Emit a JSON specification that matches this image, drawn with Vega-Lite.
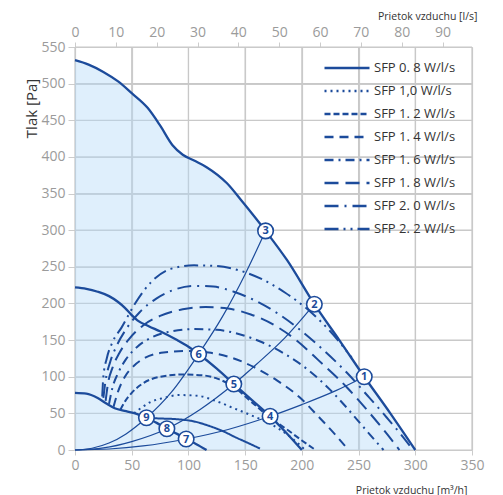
{
  "$schema": "https://vega.github.io/schema/vega-lite/v6.json",
  "width": 397,
  "height": 403,
  "autosize": {"type": "none"},
  "padding": {"left": 75, "top": 47, "right": 31, "bottom": 45},
  "background": "white",
  "config": {"view": {"stroke": null}},
  "datasets": {
    "gridy": [
      {"P": 0}, {"P": 50}, {"P": 100}, {"P": 150}, {"P": 200}, {"P": 250}, {"P": 300}, {"P": 350}, {"P": 400}, {"P": 450}, {"P": 500}, {"P": 550}
    ],
    "gridx": [
      {"Q": 0, "P": 0, "P2": 550}, {"Q": 50, "P": 0, "P2": 550}, {"Q": 100, "P": 0, "P2": 550}, {"Q": 150, "P": 0, "P2": 550},
      {"Q": 200, "P": 0, "P2": 550}, {"Q": 250, "P": 0, "P2": 550}, {"Q": 300, "P": 0, "P2": 550}, {"Q": 350, "P": 0, "P2": 550}
    ],
    "fan": [
      {"curve": "max", "Q": 0, "P": 532}, {"curve": "max", "Q": 12, "P": 526}, {"curve": "max", "Q": 25, "P": 516},
      {"curve": "max", "Q": 38, "P": 503}, {"curve": "max", "Q": 50, "P": 487}, {"curve": "max", "Q": 64, "P": 467},
      {"curve": "max", "Q": 75, "P": 443}, {"curve": "max", "Q": 86, "P": 416}, {"curve": "max", "Q": 95, "P": 403},
      {"curve": "max", "Q": 105, "P": 395}, {"curve": "max", "Q": 116, "P": 386}, {"curve": "max", "Q": 134, "P": 364},
      {"curve": "max", "Q": 148, "P": 338}, {"curve": "max", "Q": 168, "P": 299}, {"curve": "max", "Q": 187, "P": 259},
      {"curve": "max", "Q": 211, "P": 199}, {"curve": "max", "Q": 233, "P": 150}, {"curve": "max", "Q": 255, "P": 100},
      {"curve": "max", "Q": 278, "P": 50}, {"curve": "max", "Q": 300, "P": 0},
      {"curve": "mid", "Q": 0, "P": 222}, {"curve": "mid", "Q": 10, "P": 220}, {"curve": "mid", "Q": 20, "P": 216},
      {"curve": "mid", "Q": 30, "P": 210}, {"curve": "mid", "Q": 38, "P": 202}, {"curve": "mid", "Q": 44, "P": 194},
      {"curve": "mid", "Q": 50, "P": 184}, {"curve": "mid", "Q": 55, "P": 177}, {"curve": "mid", "Q": 65, "P": 169},
      {"curve": "mid", "Q": 75, "P": 162}, {"curve": "mid", "Q": 90, "P": 150}, {"curve": "mid", "Q": 100, "P": 141},
      {"curve": "mid", "Q": 109, "P": 131}, {"curve": "mid", "Q": 125, "P": 111}, {"curve": "mid", "Q": 140, "P": 90},
      {"curve": "mid", "Q": 156, "P": 68}, {"curve": "mid", "Q": 172, "P": 46}, {"curve": "mid", "Q": 186, "P": 24},
      {"curve": "mid", "Q": 200, "P": 0},
      {"curve": "low", "Q": 0, "P": 78}, {"curve": "low", "Q": 10, "P": 77}, {"curve": "low", "Q": 20, "P": 71},
      {"curve": "low", "Q": 28, "P": 63}, {"curve": "low", "Q": 35, "P": 57}, {"curve": "low", "Q": 45, "P": 53},
      {"curve": "low", "Q": 55, "P": 49}, {"curve": "low", "Q": 62, "P": 44}, {"curve": "low", "Q": 72, "P": 37},
      {"curve": "low", "Q": 80, "P": 30}, {"curve": "low", "Q": 90, "P": 22}, {"curve": "low", "Q": 98, "P": 15},
      {"curve": "low", "Q": 107, "P": 8}, {"curve": "low", "Q": 116, "P": 0}
    ],
    "sys": [
      {"curve": "s3", "Q": 0, "P": 0}, {"curve": "s3", "Q": 15, "P": 2.4}, {"curve": "s3", "Q": 30, "P": 9.5},
      {"curve": "s3", "Q": 45, "P": 22}, {"curve": "s3", "Q": 63, "P": 44}, {"curve": "s3", "Q": 85, "P": 79},
      {"curve": "s3", "Q": 109, "P": 131}, {"curve": "s3", "Q": 130, "P": 182}, {"curve": "s3", "Q": 150, "P": 240},
      {"curve": "s3", "Q": 168, "P": 299},
      {"curve": "s2", "Q": 0, "P": 0}, {"curve": "s2", "Q": 25, "P": 2.8}, {"curve": "s2", "Q": 50, "P": 11.5},
      {"curve": "s2", "Q": 81, "P": 29}, {"curve": "s2", "Q": 110, "P": 55}, {"curve": "s2", "Q": 140, "P": 90},
      {"curve": "s2", "Q": 160, "P": 117}, {"curve": "s2", "Q": 185, "P": 153}, {"curve": "s2", "Q": 211, "P": 199},
      {"curve": "s1", "Q": 0, "P": 0}, {"curve": "s1", "Q": 30, "P": 1.4}, {"curve": "s1", "Q": 60, "P": 5.5},
      {"curve": "s1", "Q": 98, "P": 15}, {"curve": "s1", "Q": 135, "P": 28}, {"curve": "s1", "Q": 172, "P": 46},
      {"curve": "s1", "Q": 200, "P": 62}, {"curve": "s1", "Q": 230, "P": 81}, {"curve": "s1", "Q": 255, "P": 100}
    ],
    "sfp": [
      {"sfp": "SFP 0. 8 W/l/s", "Q": 62, "P": 44}, {"sfp": "SFP 0. 8 W/l/s", "Q": 75, "P": 43},
      {"sfp": "SFP 0. 8 W/l/s", "Q": 90, "P": 42}, {"sfp": "SFP 0. 8 W/l/s", "Q": 105, "P": 39},
      {"sfp": "SFP 0. 8 W/l/s", "Q": 118, "P": 33}, {"sfp": "SFP 0. 8 W/l/s", "Q": 130, "P": 26},
      {"sfp": "SFP 0. 8 W/l/s", "Q": 142, "P": 17}, {"sfp": "SFP 0. 8 W/l/s", "Q": 152, "P": 10},
      {"sfp": "SFP 0. 8 W/l/s", "Q": 163, "P": 2},
      {"sfp": "SFP 1,0 W/l/s", "Q": 52, "P": 50}, {"sfp": "SFP 1,0 W/l/s", "Q": 58, "P": 57},
      {"sfp": "SFP 1,0 W/l/s", "Q": 66, "P": 65}, {"sfp": "SFP 1,0 W/l/s", "Q": 78, "P": 71},
      {"sfp": "SFP 1,0 W/l/s", "Q": 92, "P": 75}, {"sfp": "SFP 1,0 W/l/s", "Q": 108, "P": 74},
      {"sfp": "SFP 1,0 W/l/s", "Q": 124, "P": 67}, {"sfp": "SFP 1,0 W/l/s", "Q": 140, "P": 57},
      {"sfp": "SFP 1,0 W/l/s", "Q": 156, "P": 47}, {"sfp": "SFP 1,0 W/l/s", "Q": 172, "P": 36},
      {"sfp": "SFP 1,0 W/l/s", "Q": 188, "P": 20}, {"sfp": "SFP 1,0 W/l/s", "Q": 203, "P": 0},
      {"sfp": "SFP 1. 2 W/l/s", "Q": 40, "P": 55}, {"sfp": "SFP 1. 2 W/l/s", "Q": 44, "P": 66},
      {"sfp": "SFP 1. 2 W/l/s", "Q": 50, "P": 78}, {"sfp": "SFP 1. 2 W/l/s", "Q": 60, "P": 91},
      {"sfp": "SFP 1. 2 W/l/s", "Q": 75, "P": 100}, {"sfp": "SFP 1. 2 W/l/s", "Q": 95, "P": 103},
      {"sfp": "SFP 1. 2 W/l/s", "Q": 112, "P": 102}, {"sfp": "SFP 1. 2 W/l/s", "Q": 126, "P": 97},
      {"sfp": "SFP 1. 2 W/l/s", "Q": 140, "P": 86}, {"sfp": "SFP 1. 2 W/l/s", "Q": 156, "P": 65},
      {"sfp": "SFP 1. 2 W/l/s", "Q": 172, "P": 44}, {"sfp": "SFP 1. 2 W/l/s", "Q": 186, "P": 29},
      {"sfp": "SFP 1. 2 W/l/s", "Q": 200, "P": 13}, {"sfp": "SFP 1. 2 W/l/s", "Q": 212, "P": 0},
      {"sfp": "SFP 1. 4 W/l/s", "Q": 34, "P": 59}, {"sfp": "SFP 1. 4 W/l/s", "Q": 38, "P": 80},
      {"sfp": "SFP 1. 4 W/l/s", "Q": 44, "P": 100}, {"sfp": "SFP 1. 4 W/l/s", "Q": 52, "P": 115},
      {"sfp": "SFP 1. 4 W/l/s", "Q": 62, "P": 126}, {"sfp": "SFP 1. 4 W/l/s", "Q": 78, "P": 133},
      {"sfp": "SFP 1. 4 W/l/s", "Q": 98, "P": 135}, {"sfp": "SFP 1. 4 W/l/s", "Q": 118, "P": 133},
      {"sfp": "SFP 1. 4 W/l/s", "Q": 138, "P": 126}, {"sfp": "SFP 1. 4 W/l/s", "Q": 158, "P": 113},
      {"sfp": "SFP 1. 4 W/l/s", "Q": 178, "P": 95}, {"sfp": "SFP 1. 4 W/l/s", "Q": 198, "P": 72},
      {"sfp": "SFP 1. 4 W/l/s", "Q": 215, "P": 45}, {"sfp": "SFP 1. 4 W/l/s", "Q": 230, "P": 20},
      {"sfp": "SFP 1. 4 W/l/s", "Q": 241, "P": 0},
      {"sfp": "SFP 1. 6 W/l/s", "Q": 30, "P": 63}, {"sfp": "SFP 1. 6 W/l/s", "Q": 33, "P": 85},
      {"sfp": "SFP 1. 6 W/l/s", "Q": 38, "P": 105}, {"sfp": "SFP 1. 6 W/l/s", "Q": 45, "P": 124},
      {"sfp": "SFP 1. 6 W/l/s", "Q": 55, "P": 141}, {"sfp": "SFP 1. 6 W/l/s", "Q": 68, "P": 154},
      {"sfp": "SFP 1. 6 W/l/s", "Q": 85, "P": 162}, {"sfp": "SFP 1. 6 W/l/s", "Q": 105, "P": 165},
      {"sfp": "SFP 1. 6 W/l/s", "Q": 125, "P": 164}, {"sfp": "SFP 1. 6 W/l/s", "Q": 145, "P": 158},
      {"sfp": "SFP 1. 6 W/l/s", "Q": 165, "P": 147}, {"sfp": "SFP 1. 6 W/l/s", "Q": 185, "P": 131},
      {"sfp": "SFP 1. 6 W/l/s", "Q": 205, "P": 110}, {"sfp": "SFP 1. 6 W/l/s", "Q": 225, "P": 82},
      {"sfp": "SFP 1. 6 W/l/s", "Q": 240, "P": 57}, {"sfp": "SFP 1. 6 W/l/s", "Q": 255, "P": 30},
      {"sfp": "SFP 1. 6 W/l/s", "Q": 272, "P": 0},
      {"sfp": "SFP 1. 8 W/l/s", "Q": 27, "P": 67}, {"sfp": "SFP 1. 8 W/l/s", "Q": 29, "P": 90},
      {"sfp": "SFP 1. 8 W/l/s", "Q": 33, "P": 112}, {"sfp": "SFP 1. 8 W/l/s", "Q": 39, "P": 132},
      {"sfp": "SFP 1. 8 W/l/s", "Q": 48, "P": 152}, {"sfp": "SFP 1. 8 W/l/s", "Q": 60, "P": 170},
      {"sfp": "SFP 1. 8 W/l/s", "Q": 75, "P": 183}, {"sfp": "SFP 1. 8 W/l/s", "Q": 95, "P": 192},
      {"sfp": "SFP 1. 8 W/l/s", "Q": 115, "P": 195}, {"sfp": "SFP 1. 8 W/l/s", "Q": 135, "P": 193},
      {"sfp": "SFP 1. 8 W/l/s", "Q": 155, "P": 185}, {"sfp": "SFP 1. 8 W/l/s", "Q": 175, "P": 171},
      {"sfp": "SFP 1. 8 W/l/s", "Q": 195, "P": 150}, {"sfp": "SFP 1. 8 W/l/s", "Q": 215, "P": 122},
      {"sfp": "SFP 1. 8 W/l/s", "Q": 240, "P": 85}, {"sfp": "SFP 1. 8 W/l/s", "Q": 260, "P": 50},
      {"sfp": "SFP 1. 8 W/l/s", "Q": 275, "P": 22}, {"sfp": "SFP 1. 8 W/l/s", "Q": 286, "P": 0},
      {"sfp": "SFP 2. 0 W/l/s", "Q": 25, "P": 71}, {"sfp": "SFP 2. 0 W/l/s", "Q": 27, "P": 95},
      {"sfp": "SFP 2. 0 W/l/s", "Q": 31, "P": 120}, {"sfp": "SFP 2. 0 W/l/s", "Q": 37, "P": 143},
      {"sfp": "SFP 2. 0 W/l/s", "Q": 46, "P": 167}, {"sfp": "SFP 2. 0 W/l/s", "Q": 57, "P": 188},
      {"sfp": "SFP 2. 0 W/l/s", "Q": 72, "P": 207}, {"sfp": "SFP 2. 0 W/l/s", "Q": 88, "P": 219},
      {"sfp": "SFP 2. 0 W/l/s", "Q": 105, "P": 224}, {"sfp": "SFP 2. 0 W/l/s", "Q": 122, "P": 223},
      {"sfp": "SFP 2. 0 W/l/s", "Q": 140, "P": 216}, {"sfp": "SFP 2. 0 W/l/s", "Q": 160, "P": 203},
      {"sfp": "SFP 2. 0 W/l/s", "Q": 180, "P": 185}, {"sfp": "SFP 2. 0 W/l/s", "Q": 200, "P": 162},
      {"sfp": "SFP 2. 0 W/l/s", "Q": 220, "P": 135}, {"sfp": "SFP 2. 0 W/l/s", "Q": 240, "P": 105},
      {"sfp": "SFP 2. 0 W/l/s", "Q": 258, "P": 74}, {"sfp": "SFP 2. 0 W/l/s", "Q": 275, "P": 44},
      {"sfp": "SFP 2. 0 W/l/s", "Q": 288, "P": 20}, {"sfp": "SFP 2. 0 W/l/s", "Q": 298, "P": 0},
      {"sfp": "SFP 2. 2 W/l/s", "Q": 24, "P": 73}, {"sfp": "SFP 2. 2 W/l/s", "Q": 25, "P": 100},
      {"sfp": "SFP 2. 2 W/l/s", "Q": 28, "P": 125}, {"sfp": "SFP 2. 2 W/l/s", "Q": 33, "P": 147},
      {"sfp": "SFP 2. 2 W/l/s", "Q": 41, "P": 167}, {"sfp": "SFP 2. 2 W/l/s", "Q": 53, "P": 200},
      {"sfp": "SFP 2. 2 W/l/s", "Q": 67, "P": 229}, {"sfp": "SFP 2. 2 W/l/s", "Q": 84, "P": 247},
      {"sfp": "SFP 2. 2 W/l/s", "Q": 105, "P": 252}, {"sfp": "SFP 2. 2 W/l/s", "Q": 125, "P": 251},
      {"sfp": "SFP 2. 2 W/l/s", "Q": 145, "P": 245}, {"sfp": "SFP 2. 2 W/l/s", "Q": 165, "P": 233},
      {"sfp": "SFP 2. 2 W/l/s", "Q": 185, "P": 215}, {"sfp": "SFP 2. 2 W/l/s", "Q": 205, "P": 192},
      {"sfp": "SFP 2. 2 W/l/s", "Q": 225, "P": 162}, {"sfp": "SFP 2. 2 W/l/s", "Q": 244, "P": 126}
    ],
    "pts": [
      {"n": "1", "Q": 255, "P": 100}, {"n": "2", "Q": 211, "P": 199}, {"n": "3", "Q": 168, "P": 299},
      {"n": "4", "Q": 172, "P": 46}, {"n": "5", "Q": 140, "P": 90}, {"n": "6", "Q": 109, "P": 131},
      {"n": "7", "Q": 98, "P": 15}, {"n": "8", "Q": 81, "P": 29}, {"n": "9", "Q": 63, "P": 44}
    ]
  },
  "encoding": {
    "y": {"field": "P", "type": "quantitative", "scale": {"domain": [0, 550], "nice": false},
      "axis": {"values": [0, 50, 100, 150, 200, 250, 300, 350, 400, 450, 500, 550], "grid": true, "gridColor": "#cccccc", "gridWidth": 1.2,
        "labelOverlap": false, "labelFlush": false, "labelFont": "Open Sans", "labelFontSize": 14, "labelColor": "#9b9b9b",
        "tickSize": 7, "tickColor": "#cccccc", "labelPadding": 3, "domainColor": "#cccccc",
        "title": "Tlak [Pa]", "titleFont": "Open Sans", "titleFontWeight": "normal", "titleColor": "#333333", "titleFontSize": 15,
        "titleX": -39, "titleY": 61, "titleAngle": -90, "titleAlign": "center", "titleBaseline": "alphabetic"}}
  },
  "layer": [
    {
      "data": {"name": "gridy"},
      "mark": {"type": "rule", "stroke": "#c8c8c8", "strokeWidth": 1.2},
      "encoding": {}
    },
    {
      "data": {"name": "gridx"},
      "mark": {"type": "rule", "stroke": "#c8c8c8", "strokeWidth": 1.2},
      "encoding": {
        "x": {"field": "Q", "type": "quantitative", "scale": {"domain": [0, 350], "nice": false},
          "axis": {"orient": "bottom", "values": [0, 50, 100, 150, 200, 250, 300, 350], "grid": true, "gridColor": "#cccccc", "gridWidth": 1.2,
            "labelOverlap": false, "labelFlush": false, "labelFont": "Open Sans", "labelFontSize": 14, "labelColor": "#9b9b9b",
            "tickSize": 5, "tickColor": "#cccccc", "labelPadding": 3, "domainColor": "#cccccc",
            "title": "Prietok vzduchu [m³/h]", "titleFont": "Open Sans", "titleFontWeight": "normal", "titleColor": "#333333", "titleFontSize": 10.5,
            "titleX": 392, "titleY": 43, "titleAlign": "right", "titleBaseline": "alphabetic"}},
        "y2": {"field": "P2"}
      }
    },
    {
      "data": {"name": "fan"},
      "transform": [{"filter": "datum.curve == 'max'"}],
      "mark": {"type": "area", "color": "#b3daf7", "fillOpacity": 0.42, "interpolate": "monotone"},
      "encoding": {
        "x": {"field": "Q", "type": "quantitative", "axis": null}
      }
    },
    {
      "data": {"name": "sys"},
      "mark": {"type": "line", "color": "#1c4b9b", "strokeWidth": 1.2, "interpolate": "monotone"},
      "encoding": {
        "x": {"field": "Q", "type": "quantitative", "axis": null},
        "detail": {"field": "curve"}
      }
    },
    {
      "data": {"name": "sfp"},
      "mark": {"type": "line", "color": "#1c4b9b", "strokeWidth": 2, "interpolate": "monotone"},
      "encoding": {
        "x": {"field": "Q", "type": "quantitative", "axis": null},
        "strokeDash": {"field": "sfp", "type": "nominal",
          "scale": {
            "domain": ["SFP 0. 8 W/l/s", "SFP 1,0 W/l/s", "SFP 1. 2 W/l/s", "SFP 1. 4 W/l/s", "SFP 1. 6 W/l/s", "SFP 1. 8 W/l/s", "SFP 2. 0 W/l/s", "SFP 2. 2 W/l/s"],
            "range": [[1, 0], [2, 4], [6, 3], [9, 6], [9, 5, 2, 5], [14, 7], [14, 6, 2, 6], [14, 5, 2, 5, 2, 5]]
          },
          "legend": {
            "orient": "none", "legendX": 244, "legendY": 9, "title": null, "padding": 4,
            "symbolType": "stroke", "symbolSize": 2025, "symbolStrokeWidth": 2.5, "symbolStrokeColor": "#1c4b9b",
            "clipHeight": 16, "rowPadding": 7, "labelFontSize": 13, "labelColor": "#333333", "labelFont": "Open Sans",
            "labelOffset": 3, "labelLimit": 200
          }
        }
      }
    },
    {
      "data": {"name": "fan"},
      "mark": {"type": "line", "color": "#1c4b9b", "strokeWidth": 2.3, "interpolate": "monotone"},
      "encoding": {
        "x": {"field": "Q", "type": "quantitative", "axis": null},
        "detail": {"field": "curve"}
      }
    },
    {
      "data": {"name": "pts"},
      "mark": {"type": "point", "shape": "circle", "filled": true, "fill": "white", "fillOpacity": 1, "stroke": "#1c4b9b", "strokeWidth": 1.6, "size": 240, "opacity": 1},
      "encoding": {
        "x": {"field": "Q", "type": "quantitative", "axis": null}
      }
    },
    {
      "data": {"name": "pts"},
      "mark": {"type": "text", "font": "Open Sans", "fontSize": 11, "fontWeight": "bold", "color": "#1c4b9b", "align": "center", "baseline": "middle", "dy": 0.5},
      "encoding": {
        "x": {"field": "Q", "type": "quantitative", "axis": null},
        "text": {"field": "n"}
      }
    },
    {
      "data": {"name": "pts"},
      "mark": {"type": "point", "opacity": 0},
      "encoding": {
        "x": {"field": "Q", "type": "quantitative",
          "axis": {"orient": "top", "values": [0, 36, 72, 108, 144, 180, 216, 252, 288, 324], "labelExpr": "format(datum.value / 3.6, 'd')",
            "labelOverlap": false, "labelFlush": false, "labelFont": "Open Sans", "labelFontSize": 14, "labelColor": "#9b9b9b",
            "tickSize": 5, "tickColor": "#cccccc", "labelPadding": 3, "grid": false, "domain": false,
            "title": "Prietok vzduchu [l/s]", "titleFont": "Open Sans", "titleFontWeight": "normal", "titleColor": "#333333", "titleFontSize": 10.5,
            "titleX": 402, "titleY": -28, "titleAlign": "right", "titleBaseline": "alphabetic"}}
      }
    }
  ],
  "resolve": {"axis": {"x": "independent"}}
}
